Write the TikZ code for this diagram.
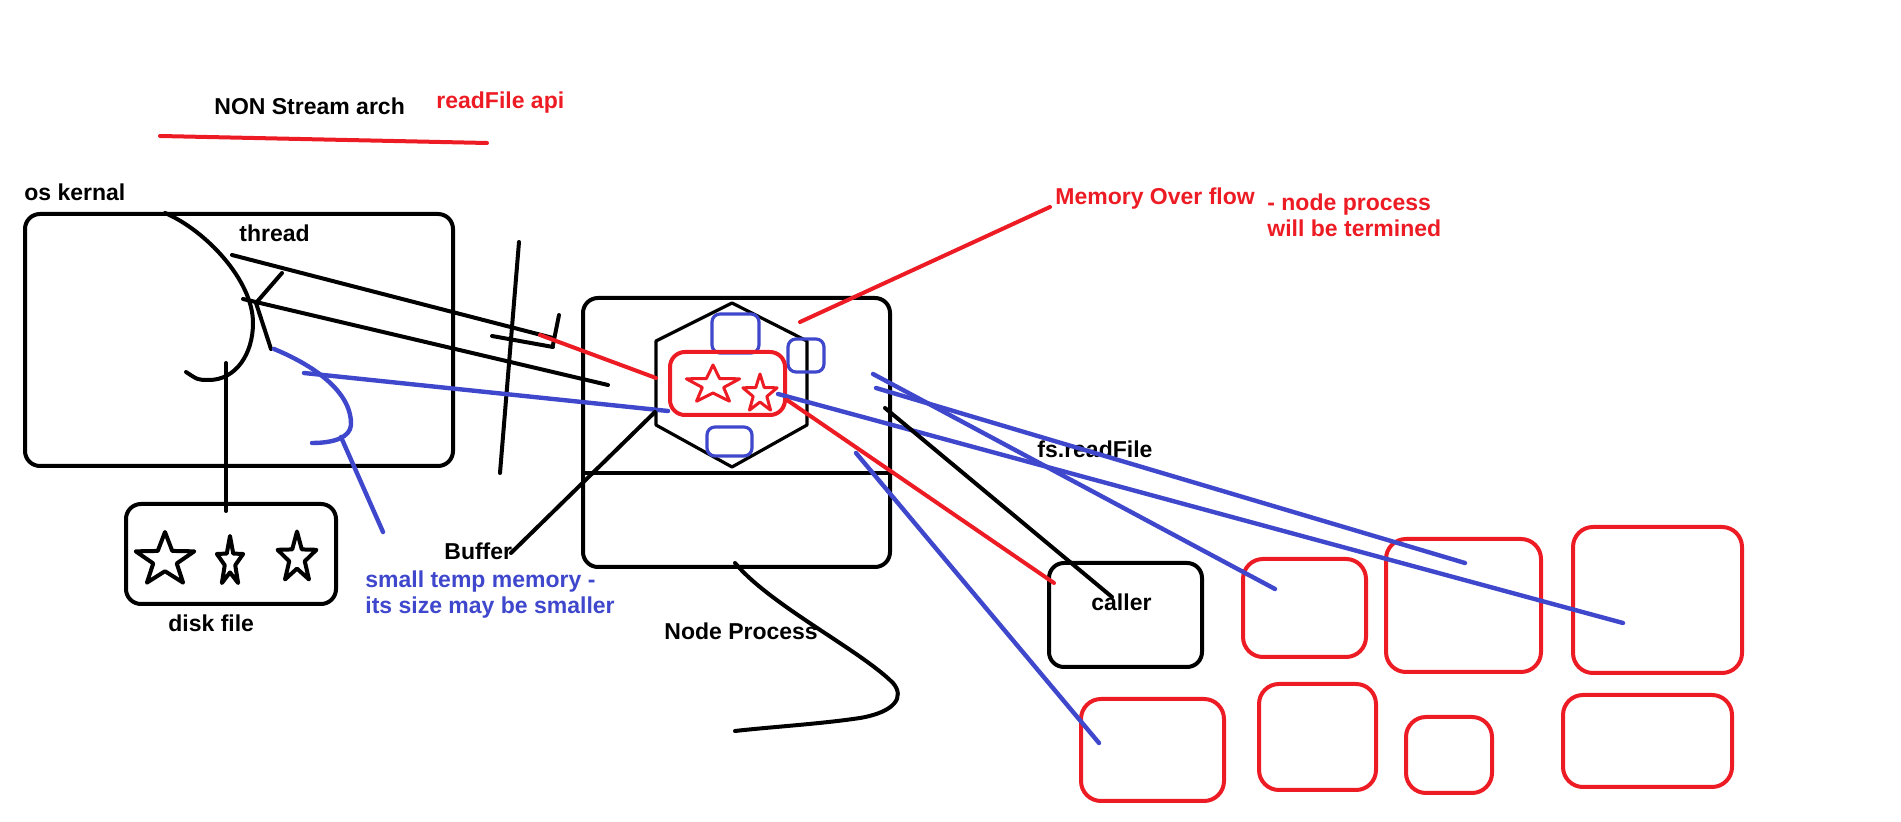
\documentclass[tikz,border=0pt]{standalone}
\usepackage{fontspec}
\setmainfont{Liberation Sans}
\usetikzlibrary{fit}
\definecolor{pred}{HTML}{ED1C24}
\definecolor{pblue}{HTML}{3F48CC}
\newcommand{\starpoly}[5]{%
  \draw[#5, shift={(#1,#2)}, xscale=#4]
    (-90:#3) -- (-54:0.4*#3) -- (-18:#3) -- (18:0.4*#3) -- (54:#3) --
    (90:0.4*#3) -- (126:#3) -- (162:0.4*#3) -- (198:#3) -- (234:0.4*#3) -- cycle;}
\begin{document}
\begin{tikzpicture}[x=0.5pt,y=-0.5pt, line cap=round, line join=round,
  bk/.style={line width=2pt, draw=black},
  rd/.style={line width=2pt, draw=pred},
  bl/.style={line width=2.2pt, draw=pblue},
  box/.style={inner sep=0pt, rounded corners=7.5pt, line width=2pt},
  rbox/.style={inner sep=0pt, rounded corners=10pt, line width=2pt, draw=pred},
  sbox/.style={inner sep=0pt, rounded corners=4pt, line width=1.6pt, draw=pblue},
  lbl/.style={font=\fontsize{11.5pt}{13pt}\selectfont\bfseries, inner sep=0pt, anchor=base west},
]
\useasboundingbox[fill=white] (0,0) rectangle (1901,822);

% ---------- texts ----------
\node[lbl] (title) at (214,115) {NON Stream arch};
\node[lbl, text=pred] (api) at (436,109) {readFile api};
\node[lbl] (oslbl) at (24,201) {os kernal};
\node[lbl] (threadlbl) at (239,242) {thread};
\node[lbl] (disklbl) at (168,632) {disk file};
\node[lbl] (bufferlbl) at (444,560) {Buffer};
\node[lbl, text=pblue, align=left] (templbl) at (365,614) {small temp memory -\\its size may be smaller};
\node[lbl] (fslbl) at (1037,458) {fs.readFile};
\node[lbl] (npLbl) at (664,640) {Node Process};
\node[lbl, text=pred] (memlbl) at (1055,205) {Memory Over flow};
\node[lbl, text=pred, align=left] (termlbl) at (1267,237) {- node process\\will be termined};

% ---------- boxes ----------
\node[box, draw=black, fit={(25,214) (453,466)}] (oskernel) {};
\node[box, draw=black, fit={(126,504) (336,604)}] (disk) {};
\node[box, draw=black, fit={(583,298) (890,567)}] (nodeproc) {};
\node[box, draw=black, fit={(1049,563) (1202,667)}] (caller) {};
\node[lbl] (callerlbl) at (1091,611) {caller};

\node[rbox, fit={(1243,559) (1366,657)}] (m1) {};
\node[rbox, fit={(1386,539) (1541,672)}] (m2) {};
\node[rbox, fit={(1573,527) (1742,673)}] (m3) {};
\node[rbox, fit={(1081,699) (1224,801)}] (m4) {};
\node[rbox, fit={(1259,684) (1376,790)}] (m5) {};
\node[rbox, fit={(1406,717) (1492,793)}] (m6) {};
\node[rbox, fit={(1563,695) (1732,787)}] (m7) {};

% node process internals
\coordinate (divL) at (583,473);
\coordinate (divR) at (893,473);
\draw[bk] (divL) -- (divR);
\coordinate (h1) at (732,303);
\coordinate (h2) at (807,341);
\coordinate (h3) at (807,425);
\coordinate (h4) at (732,467);
\coordinate (h5) at (656,425);
\coordinate (h6) at (656,341);
\draw[line width=1.6pt] (h1) -- (h2) -- (h3) -- (h4) -- (h5) -- (h6) -- cycle;
\node[sbox, fit={(712,314) (759,353)}] (b1) {};
\node[sbox, fit={(707,427) (752,456)}] (b2) {};
\node[sbox, fit={(788,339) (824,372)}] (b3) {};
\node[inner sep=0pt, rounded corners=7.5pt, line width=2pt, draw=pred, fit={(670,352) (785,415)}] (buffer) {};
\starpoly{713}{385}{20}{1.4}{line width=1.5pt, draw=pred}
\starpoly{760}{394}{20}{0.9}{line width=1.5pt, draw=pred}

% disk stars
\starpoly{165}{560}{28}{1.1}{line width=2pt}
\starpoly{230}{562}{26}{0.53}{line width=2pt}
\starpoly{297}{558}{26.5}{0.77}{line width=2pt}

% ---------- strokes ----------
\coordinate (u1) at (160,136);
\coordinate (u2) at (487,143);
\draw[rd] (u1) -- (u2);

% thread arc in kernel
\draw[bk] (165,213) .. controls (205,230) and (253,280) .. (253,323)
  .. controls (253,355) and (235,380) .. (209,380)
  .. controls (198,380) .. (186,372);
\coordinate (vtop) at (226,363);
\draw[bk] (vtop) -- (disk.north -| vtop) -- ++(0,9);

% thread arrows
\coordinate (j) at (256,303);
\coordinate (ja) at (282,273);
\coordinate (jb) at (271,349);
\draw[bk] (ja) -- (j) -- (jb);
\coordinate (low1) at (243,299);
\coordinate (low2) at (608,385);
\draw[bk] (low1) -- (low2);
\coordinate (up1) at (232,255);
\coordinate (up2) at (553,338);
\draw[bk] (up1) -- (up2);
\coordinate (ah1) at (492,336);
\coordinate (ah2) at (553,347);
\coordinate (ah3) at (559,315);
\coordinate (ah4) at (553,345);
\draw[bk] (ah1) -- (ah2);
\draw[bk] (ah3) -- (ah4);
\coordinate (sep1) at (519,242);
\coordinate (sep2) at (500,473);
\draw[bk] (sep1) -- (sep2);
\coordinate (r1) at (540,335);
\draw[rd] (r1) -- (h6 |- 0,378);

% blue curve
\draw[bl] (274,349) .. controls (320,368) and (352,395) .. (351,425)
  .. controls (350,437) and (335,443) .. (312,443);
\coordinate (bt1) at (341,437);
\coordinate (bt2) at (383,532);
\draw[bl] (bt1) -- (bt2);
\coordinate (bl1) at (304,373);
\coordinate (bl2) at (668,411);
\draw[bl] (bl1) -- (bl2);

% buffer pointer
\coordinate (bf) at (511,553);
\coordinate (bf2) at (655,412);
\draw[bk] (bf) -- (bf2);

% memory overflow pointer
\coordinate (mo1) at (800,322);
\coordinate (mo2) at (1050,207);
\draw[rd] (mo1) -- (mo2);

% node process tail
\draw[bk] (735,563) .. controls (770,605) and (860,650) .. (893,683)
  .. controls (905,697) and (895,712) .. (860,718)
  .. controls (820,724) and (770,727) .. (735,731);

% right side lines
\coordinate (ba1) at (873,374);
\coordinate (ba2) at (1275,589);
\draw[bl] (ba1) -- (ba2);
\coordinate (bb1) at (876,388);
\coordinate (bb2) at (1465,563);
\draw[bl] (bb1) -- (bb2);
\coordinate (bc1) at (778,394);
\coordinate (bc2) at (1623,623);
\draw[bl] (bc1) -- (bc2);
\coordinate (k1) at (885,408);
\coordinate (k2) at (1112,597);
\draw[bk] (k1) -- (k2);
\coordinate (rr1) at (787,400);
\coordinate (rr2) at (1054,583);
\draw[rd] (rr1) -- (rr2);
\coordinate (bd1) at (856,453);
\coordinate (bd2) at (1099,743);
\draw[bl] (bd1) -- (bd2);
\end{tikzpicture}
\end{document}
